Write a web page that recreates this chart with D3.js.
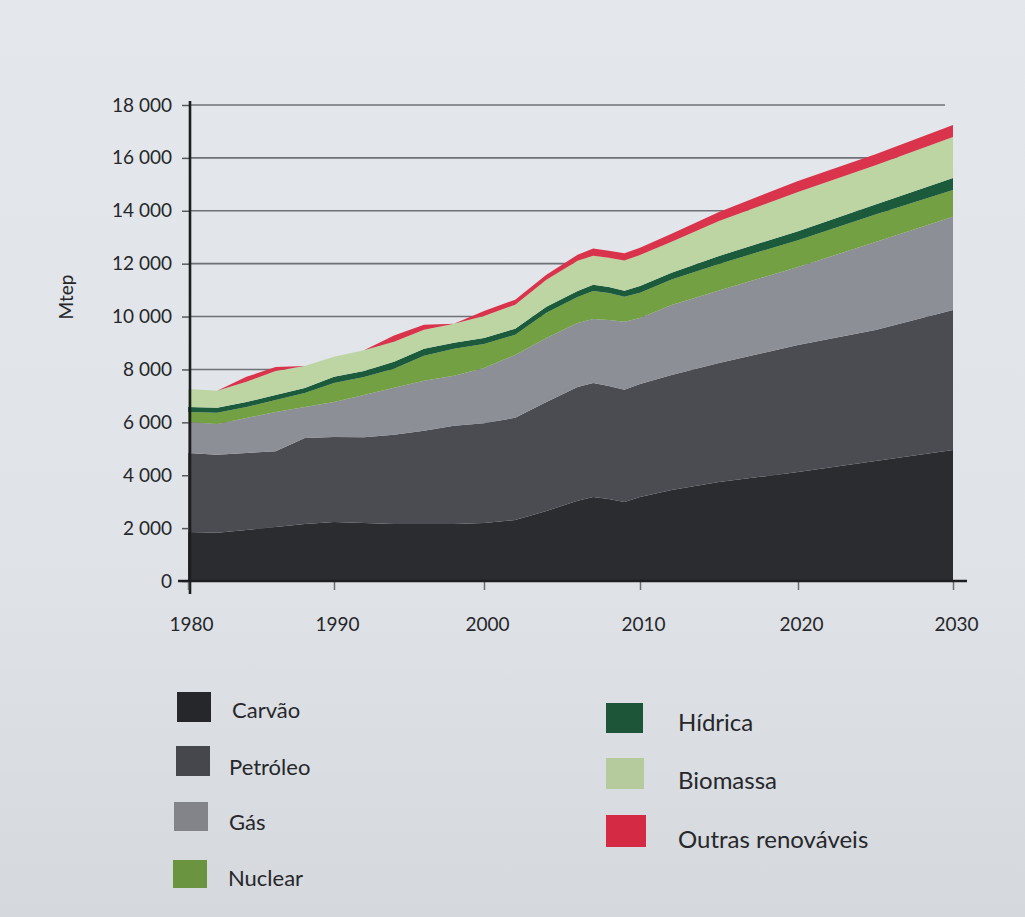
<!DOCTYPE html>
<html>
<head>
<meta charset="utf-8">
<script src="https://cdn.jsdelivr.net/npm/d3@7"></script>
<style>
  html, body { margin: 0; padding: 0; background: #e2e5e9; }
  svg { display: block; }
  text { font-family: Lato, "Open Sans", "Noto Sans", sans-serif; fill: #26272b; }
</style>
</head>
<body>
<script>
// ---- data (Mtep) ----
const years    = [1980,1982,1984,1986,1988,1990,1992,1994,1996,1998,2000,2002,2004,2006,2007,2008,2009,2010,2012,2015,2020,2025,2030];
const carvao   = [1850,1820,1930,2040,2160,2230,2190,2160,2160,2160,2190,2310,2650,3030,3180,3100,2990,3180,3440,3740,4120,4540,4950];
const petroleo = [2990,2950,2910,2870,3250,3220,3250,3370,3520,3710,3780,3860,4120,4310,4310,4270,4240,4270,4350,4500,4800,4950,5300];
const gas      = [1170,1170,1320,1480,1170,1320,1590,1780,1890,1890,2080,2380,2420,2420,2420,2500,2570,2500,2650,2750,2950,3330,3520];
const nuclear  = [380,420,420,450,530,720,680,720,950,1020,910,760,950,980,1060,1020,950,950,960,1000,1020,1040,1020];
const hidrica  = [190,190,190,190,190,230,230,260,260,230,230,230,230,230,230,230,230,260,260,300,340,380,450];
const biomassa = [680,640,760,910,830,760,790,760,720,720,830,910,1020,1140,1100,1100,1140,1170,1170,1320,1480,1480,1550];
const outras   = [0,0,190,150,0,0,0,230,190,0,190,190,190,230,270,270,270,270,300,340,420,420,450];

const seriesNames = ["Carvão","Petróleo","Gás","Nuclear","Hídrica","Biomassa","Outras renováveis"];
const seriesData  = [carvao, petroleo, gas, nuclear, hidrica, biomassa, outras];
const areaColors  = ["#2b2c30","#4b4c51","#8d8f96","#72a043","#1c5a3c","#bcd5a3","#d9344b"];
const swatchColors= ["#26272b","#46474c","#838489","#6b9440","#1c5538","#b5cb9d","#d42a43"];
const xTicks = [1980,1990,2000,2010,2020,2030];
const yTicks = [0,2000,4000,6000,8000,10000,12000,14000,16000,18000];
const yTitle = "Mtep";

// ---- setup ----
const W = 1025, H = 917;
const svg = d3.select("body").append("svg").attr("width", W).attr("height", H);

const defs = svg.append("defs");
const grad = defs.append("linearGradient").attr("id","paper").attr("x1",0).attr("y1",0).attr("x2",0).attr("y2",1);
grad.append("stop").attr("offset","0%").attr("stop-color","#e4e7eb");
grad.append("stop").attr("offset","60%").attr("stop-color","#e0e3e7");
grad.append("stop").attr("offset","100%").attr("stop-color","#d5d8dc");
svg.append("rect").attr("width",W).attr("height",H).attr("fill","url(#paper)");

const x = d3.scaleLinear().domain(xTicks).range([188,334,484,640,798,953]);
const y = d3.scaleLinear().domain([0,18000]).range([581,105]);

// table for stack
const table = years.map((yr,i) => {
  const row = {year: yr};
  seriesNames.forEach((n,j) => row[n] = seriesData[j][i]);
  return row;
});
const stacked = d3.stack().keys(seriesNames)(table);

// gridlines (behind areas)
svg.append("g").selectAll("line").data(yTicks.filter(d => d > 0)).join("line")
  .attr("x1", 190).attr("x2", 945)
  .attr("y1", d => y(d)).attr("y2", d => y(d))
  .attr("stroke", "#6e7176").attr("stroke-width", 1.6);

// areas
const area = d3.area()
  .x(d => x(d.data.year))
  .y0(d => y(d[0]))
  .y1(d => y(d[1]))
  .curve(d3.curveLinear);
svg.append("g").selectAll("path").data(stacked).join("path")
  .attr("d", area)
  .attr("fill", (d,i) => areaColors[i]);

// y axis
const fmt = d3.formatLocale({decimal: ",", thousands: " ", grouping: [3], currency: ["",""]}).format(",");
const yAxis = d3.axisLeft(y).tickValues(yTicks).tickSize(8).tickPadding(10).tickFormat(fmt);
const gy = svg.append("g").attr("transform","translate(190,0)").call(yAxis);
gy.select(".domain").remove();
gy.selectAll(".tick line").attr("stroke","#55585d").attr("stroke-width",1.5);
gy.selectAll(".tick text").attr("font-size",19).attr("fill","#26272b")
  .style("font-family","Lato, 'Open Sans', sans-serif");
svg.append("line").attr("x1",190).attr("x2",190).attr("y1",101).attr("y2",594)
  .attr("stroke","#1d1e21").attr("stroke-width",2.6);

// x axis
const xAxis = d3.axisBottom(x).tickValues(xTicks).tickSize(9).tickPadding(28).tickFormat(d3.format("d"));
const gx = svg.append("g").attr("transform",`translate(0,${y(0)})`).call(xAxis);
gx.select(".domain").remove();
gx.selectAll(".tick line").attr("stroke","#6a6d72").attr("stroke-width",1.5);
gx.selectAll(".tick text").attr("font-size",19).attr("fill","#26272b").attr("dx", 3)
  .style("font-family","Lato, 'Open Sans', sans-serif");
svg.append("line").attr("x1",178).attr("x2",967).attr("y1",y(0)).attr("y2",y(0))
  .attr("stroke","#1d1e21").attr("stroke-width",2.6);

// y title
svg.append("text").attr("transform","translate(73,297) rotate(-90)")
  .attr("text-anchor","middle").attr("font-size",19).text(yTitle);

// legend
const legendPos = [
  {sx:177, sy:692, w:34, h:30, tx:232, ty:710, fs:22},
  {sx:176, sy:746, w:34, h:30, tx:229, ty:767, fs:22},
  {sx:174, sy:802, w:34, h:29, tx:229, ty:822, fs:22},
  {sx:173, sy:860, w:34, h:28, tx:228, ty:878, fs:22},
  {sx:606, sy:703, w:37, h:30, tx:678, ty:723, fs:24},
  {sx:606, sy:758, w:38, h:31, tx:678, ty:781, fs:24},
  {sx:606, sy:815, w:40, h:32, tx:678, ty:840, fs:24}
];
const lg = svg.append("g");
seriesNames.forEach((n,i) => {
  const p = legendPos[i];
  lg.append("rect").attr("x",p.sx).attr("y",p.sy).attr("width",p.w).attr("height",p.h)
    .attr("fill",swatchColors[i]);
  lg.append("text").attr("x",p.tx).attr("y",p.ty).attr("dy","0.35em")
    .attr("font-size",p.fs).text(n);
});
</script>
</body>
</html>
